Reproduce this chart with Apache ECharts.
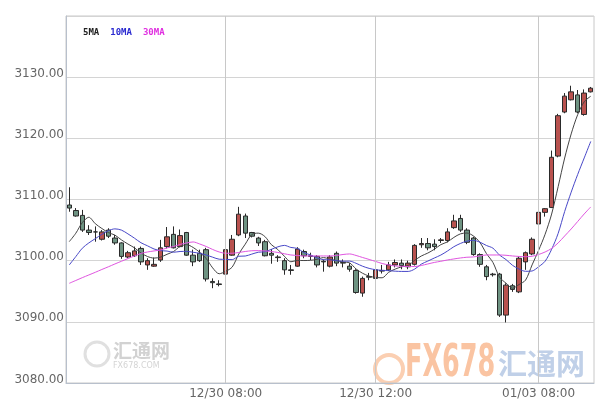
<!DOCTYPE html>
<html>
<head>
<meta charset="utf-8">
<script src="https://cdn.jsdelivr.net/npm/echarts@6/dist/echarts.min.js"></script>
<style>html,body{margin:0;padding:0;background:#fff}#c{width:597px;height:404px}</style>
</head>
<body>
<div id="c"></div>
<script>
const tickLabels = ['12/30 08:00', '12/30 12:00', '01/03 08:00'];
const tickIndex = [24, 47, 72];
const yTicks = [3080, 3090, 3100, 3110, 3120, 3130];

const opens = [
3109.1,3108.2,3107.4,3105.0,3104.7,3103.5,3105.0,3103.7,3102.9,3100.6,
3100.8,3102.0,3099.3,3099.1,3100.1,3102.3,3104.3,3102.3,3104.6,3100.9,
3101.2,3101.8,3096.6,3096.2,3097.8,3100.9,3104.2,3107.3,3104.6,3103.7,
3103.1,3101.2,3100.6,3100.0,3098.5,3099.1,3101.5,3100.8,3100.7,3099.9,
3099.1,3101.2,3099.7,3099.1,3098.4,3094.7,3097.4,3097.1,3098.4,3098.5,
3099.3,3099.6,3099.0,3099.4,3102.6,3102.8,3102.7,3103.3,3103.3,3105.4,
3106.9,3105.0,3103.7,3101.0,3099.0,3097.8,3097.8,3091.1,3095.9,3094.9,
3099.8,3101.1,3106.0,3107.9,3108.7,3117.1,3124.3,3126.3,3127.1,3123.9,
3127.6];
const closes = [
3108.6,3107.3,3105.0,3104.6,3104.7,3104.7,3104.0,3102.9,3100.7,3101.3,
3101.6,3099.8,3100.0,3099.4,3102.1,3103.9,3102.1,3104.1,3100.9,3099.8,
3100.0,3097.0,3096.4,3096.1,3101.8,3103.5,3107.6,3104.5,3104.0,3102.9,
3100.8,3100.9,3100.5,3098.5,3098.4,3101.9,3100.8,3100.7,3099.3,3099.8,
3100.6,3099.6,3099.6,3098.6,3094.8,3097.1,3097.3,3098.5,3098.3,3099.3,
3099.7,3099.2,3099.6,3102.5,3102.8,3102.1,3102.3,3103.4,3104.7,3106.5,
3105.0,3103.0,3101.0,3099.4,3097.4,3097.7,3091.1,3096.0,3095.3,3100.4,
3101.3,3103.5,3107.9,3108.5,3116.9,3123.7,3126.9,3127.6,3124.3,3127.4,
3128.2];
const lows = [
3108.0,3107.2,3104.7,3104.2,3103.1,3103.3,3103.7,3102.6,3100.3,3100.4,
3100.6,3099.3,3098.5,3099.0,3099.8,3102.0,3102.0,3102.2,3100.8,3099.1,
3099.8,3096.6,3095.5,3095.8,3097.3,3100.8,3104.0,3103.7,3103.8,3102.4,
3100.7,3099.5,3099.8,3097.7,3097.7,3099.0,3100.4,3100.1,3098.9,3098.2,
3098.9,3099.1,3098.9,3098.2,3094.6,3094.1,3096.8,3096.6,3097.9,3098.3,
3098.9,3098.6,3098.6,3099.2,3102.1,3101.7,3101.7,3102.9,3103.0,3105.2,
3104.7,3102.7,3100.8,3099.0,3096.8,3097.4,3090.8,3089.9,3094.9,3094.7,
3098.5,3100.9,3105.8,3107.2,3108.6,3116.9,3124.1,3126.2,3124.1,3123.7,
3127.5];
const highs = [
3112.0,3108.6,3108.3,3105.8,3105.6,3105.0,3105.3,3104.2,3103.0,3101.6,
3102.3,3102.3,3100.4,3100.5,3103.4,3105.5,3105.6,3105.1,3104.7,3101.8,
3101.8,3102.1,3097.1,3096.8,3102.4,3104.2,3108.8,3107.7,3104.7,3103.9,
3103.4,3101.9,3100.9,3100.4,3099.3,3102.2,3101.8,3101.3,3100.9,3100.2,
3100.9,3101.5,3100.2,3099.6,3098.6,3097.4,3098.0,3098.6,3099.3,3099.8,
3100.2,3100.2,3100.0,3102.7,3103.7,3103.7,3103.5,3103.7,3105.3,3107.5,
3107.5,3105.3,3103.9,3101.2,3099.3,3098.0,3098.0,3096.3,3096.2,3100.7,
3101.5,3103.8,3110.2,3108.6,3118.0,3124.0,3127.4,3128.6,3127.9,3128.0,
3128.4];

const ma5 = [
3103.11,3104.48,3106.22,3107.10,3106.04,3105.26,3104.60,3104.18,3103.40,3102.72,
3102.10,3101.26,3100.68,3100.42,3100.58,3101.04,3101.50,3102.32,3102.62,3102.16,
3101.38,3100.36,3098.82,3097.86,3098.26,3098.96,3101.08,3102.70,3104.28,3104.50,
3103.96,3102.62,3101.82,3100.72,3099.82,3100.04,3100.02,3100.06,3100.22,3100.50,
3100.24,3100.00,3099.78,3099.64,3098.64,3097.94,3097.48,3097.26,3097.20,3098.10,
3098.62,3099.00,3099.22,3100.06,3100.76,3101.24,3101.86,3102.62,3103.06,3103.80,
3104.38,3104.52,3104.04,3102.98,3101.16,3099.70,3097.32,3096.32,3095.50,3096.10,
3096.82,3099.30,3101.68,3104.32,3107.62,3112.10,3116.78,3120.72,3123.88,3125.98,
3126.88];
const ma10 = [
3099.30,3100.66,3102.03,3102.90,3103.60,3104.30,3104.90,3105.20,3105.00,3104.38,
3103.68,3102.93,3102.43,3101.91,3101.65,3101.57,3101.38,3101.50,3101.52,3101.37,
3101.21,3100.93,3100.57,3100.24,3100.21,3100.17,3100.72,3100.76,3101.07,3101.38,
3101.46,3101.85,3102.26,3102.50,3102.16,3102.00,3101.32,3100.94,3100.47,3100.16,
3100.14,3100.01,3099.92,3099.93,3099.57,3099.09,3098.74,3098.52,3098.42,3098.37,
3098.28,3098.24,3098.24,3098.63,3099.43,3099.93,3100.43,3100.92,3101.56,3102.28,
3102.81,3103.19,3103.33,3103.02,3102.48,3102.04,3100.92,3100.18,3099.24,3098.63,
3098.26,3098.31,3099.00,3099.91,3101.86,3104.46,3108.04,3111.20,3114.10,3116.80,
3119.49];
const ma30 = [
3096.30,3096.76,3097.22,3097.66,3098.10,3098.56,3099.00,3099.46,3099.90,3100.34,
3100.77,3101.18,3101.42,3101.59,3101.75,3102.08,3102.32,3102.65,3102.90,3103.06,
3102.73,3102.32,3101.83,3101.42,3101.21,3101.21,3101.34,3101.50,3101.62,3101.64,
3101.59,3101.50,3101.34,3101.13,3100.93,3100.85,3100.77,3100.77,3100.77,3100.77,
3100.77,3100.85,3101.01,3101.10,3100.85,3100.52,3100.20,3099.87,3099.54,3099.30,
3099.13,3099.08,3099.04,3099.04,3099.21,3099.46,3099.71,3099.90,3100.11,3100.28,
3100.44,3100.56,3100.61,3100.77,3100.93,3100.93,3100.93,3100.88,3100.77,3100.69,
3100.65,3100.72,3101.01,3101.42,3102.00,3102.90,3104.04,3105.18,3106.41,3107.64,
3108.78];

const categories = opens.map((_, i) => {
  const k = tickIndex.indexOf(i);
  return k >= 0 ? tickLabels[k] : 'k' + i;
});
const kData = opens.map((o, i) => [o, closes[i], lows[i], highs[i]]);

const chart = echarts.init(document.getElementById('c'), null, {renderer: 'canvas'});
chart.setOption({
  animation: false,
  backgroundColor: '#ffffff',
  grid: {left: 66, right: 3, top: 16, bottom: 21, show: true, borderColor: '#c8c8c8', borderWidth: 1},
  legend: {
    left: 73, top: 21, icon: 'none', itemWidth: 0, itemGap: 6,
    textStyle: {fontFamily: 'DejaVu Sans Mono', fontSize: 9, fontWeight: 'bold'},
    data: [
      {name: '5MA', textStyle: {color: '#222222'}},
      {name: '10MA', textStyle: {color: '#2a2ad0'}},
      {name: '30MA', textStyle: {color: '#e030e0'}}
    ]
  },
  graphic: [
    {type: 'circle', shape: {cx: 97, cy: 354, r: 12}, style: {fill: 'none', stroke: '#e0e0e0', lineWidth: 3}, z: -1, silent: true},
    {type: 'text', x: 113, y: 341, style: {text: '汇通网', fill: '#d2d2d2', font: 'bold 19px "Noto Sans CJK SC"'}, z: -1, silent: true},
    {type: 'text', x: 113, y: 362, style: {text: 'FX678.COM', fill: '#d4d4d4', font: '8px "DejaVu Sans"'}, z: -1, silent: true},
    {type: 'circle', shape: {cx: 389, cy: 369, r: 14}, style: {fill: 'none', stroke: '#fbcfb2', lineWidth: 4}, z: -1, silent: true},
    {type: 'text', x: 405, y: 343, scaleX: 0.58, style: {text: 'FX678', fill: '#fac4a2', font: 'bold 44px "DejaVu Sans"'}, z: -1, silent: true},
    {type: 'text', x: 498, y: 349, style: {text: '汇通网', fill: '#c0d0e8', font: 'bold 29px "Noto Sans CJK SC"'}, z: -1, silent: true}
  ],
  xAxis: {
    type: 'category',
    data: categories,
    boundaryGap: true,
    axisLine: {lineStyle: {color: '#b8c0cc'}},
    axisTick: {show: false},
    splitLine: {show: false},
    axisLabel: {
      interval: (i) => tickIndex.includes(i),
      formatter: (v) => tickLabels.includes(v) ? v : '',
      color: '#666', fontFamily: 'DejaVu Sans', fontSize: 12, margin: 5
    }
  },
  yAxis: {
    type: 'value',
    min: 3080, max: 3140, interval: 10,
    axisLine: {show: true, lineStyle: {color: '#b8c0cc'}},
    axisTick: {show: false},
    splitLine: {lineStyle: {color: '#d4d4d4'}},
    axisLabel: {
      formatter: (v) => yTicks.includes(v) ? v.toFixed(2) : '',
      color: '#666', fontFamily: 'DejaVu Sans', fontSize: 12, margin: 2,
      verticalAlign: 'bottom', lineHeight: 7
    }
  },
  series: [
    {
      type: 'candlestick',
      name: 'K',
      data: kData,
      barWidth: 5,
      itemStyle: {color: '#b9524f', color0: '#6e9382', borderColor: '#2a2a2a', borderColor0: '#2a2a2a', borderWidth: 1},
      markLine: {
        silent: true, symbol: 'none', label: {show: false},
        lineStyle: {color: '#c8c8c8', type: 'solid', width: 1},
        data: tickLabels.map(l => ({xAxis: l}))
      },
      z: 3
    },
    {type: 'line', name: '5MA', data: ma5, showSymbol: false, smooth: 0.3, lineStyle: {color: '#444444', width: 1}, itemStyle: {color: '#444'}, z: 4},
    {type: 'line', name: '10MA', data: ma10, showSymbol: false, smooth: 0.3, lineStyle: {color: '#4848c8', width: 1}, itemStyle: {color: '#4848c8'}, z: 4},
    {type: 'line', name: '30MA', data: ma30, showSymbol: false, smooth: 0.3, lineStyle: {color: '#e055e0', width: 1}, itemStyle: {color: '#e055e0'}, z: 4}
  ]
});
</script>
</body>
</html>
